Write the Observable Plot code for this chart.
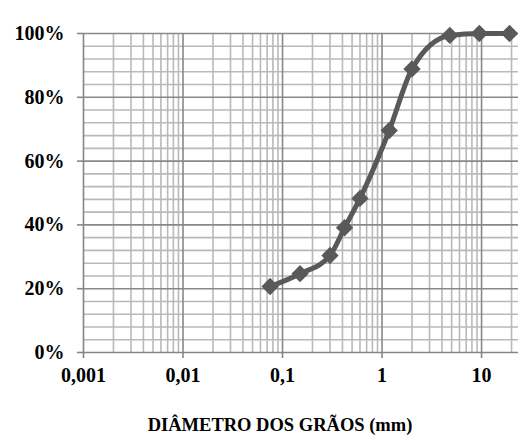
<!DOCTYPE html>
<html><head><meta charset="utf-8">
<script src="https://cdn.jsdelivr.net/npm/d3@7"></script>
<script src="https://cdn.jsdelivr.net/npm/@observablehq/plot@0.6"></script>
<style>body{margin:0;background:#fff;overflow:hidden}</style>
</head><body><div id="chart"></div>
<script>
const diameters = [0.075, 0.15, 0.3, 0.42, 0.6, 1.18, 2.0, 4.8, 9.5, 19.1];
const passing = [20.7, 24.7, 30.4, 39.1, 48.3, 69.6, 88.9, 99.4, 100, 100];
const xTickValues = [0.001, 0.01, 0.1, 1, 10];
const xTickLabels = ["0,001", "0,01", "0,1", "1", "10"];
const yTickValues = [0, 20, 40, 60, 80, 100];
const yTickLabels = ["0%", "20%", "40%", "60%", "80%", "100%"];
const xTitle = "DIÂMETRO DOS GRÃOS (mm)";

const data = diameters.map((d, i) => ({d, p: passing[i]}));
const xMax = 23.5;
const xMinor = [];
for (const dec of xTickValues) for (let k = 2; k <= 9; k++) if (dec * k <= xMax) xMinor.push(dec * k);
const yMinor = d3.range(0, 101, 4).filter(v => v % 20 !== 0);

const font = "'Liberation Serif', 'Times New Roman', serif";
const chart = Plot.plot({
  width: 518, height: 438,
  marginLeft: 83, marginTop: 33, marginBottom: 86, marginRight: 0,
  style: {fontFamily: font, fontWeight: "bold", fontSize: "20px", color: "#000", background: "#fff"},
  x: {type: "log", domain: [0.001, xMax]},
  y: {domain: [0, 100]},
  marks: [
    Plot.ruleX(xMinor, {stroke: "#b9b9b9", strokeWidth: 1.6, strokeOpacity: 1}),
    Plot.ruleY(yMinor, {stroke: "#b9b9b9", strokeWidth: 1.6, strokeOpacity: 1}),
    Plot.ruleX(xTickValues.slice(1), {stroke: "#888888", strokeWidth: 1.6, strokeOpacity: 1}),
    Plot.ruleY(yTickValues.slice(1), {stroke: "#888888", strokeWidth: 1.6, strokeOpacity: 1}),
    Plot.ruleY([0], {stroke: "#868686", strokeWidth: 1.6, strokeOpacity: 1}),
    Plot.ruleX([0.001], {stroke: "#868686", strokeWidth: 1.6, strokeOpacity: 1}),
    Plot.axisX({ticks: xTickValues, tickFormat: d => xTickLabels[xTickValues.indexOf(d)], tickSize: 6, tickPadding: 9, label: null, stroke: "#868686", strokeWidth: 1.6, strokeOpacity: 1, fontSize: 20, fontWeight: "bold", fill: "#000"}),
    Plot.axisY({ticks: yTickValues, tickFormat: d => yTickLabels[yTickValues.indexOf(d)], tickSize: 6, tickPadding: 13, label: null, stroke: "#868686", strokeWidth: 1.6, strokeOpacity: 1, fontSize: 20, fontWeight: "bold", fill: "#000"}),
    Plot.line(data, {x: "d", y: "p", stroke: "#595959", strokeWidth: 5, curve: "monotone-x"}),
    Plot.dot(data, {x: "d", y: "p", symbol: "diamond2", r: 7.8, fill: "#595959", stroke: "none"}),
    Plot.text([xTitle], {frameAnchor: "bottom", lineAnchor: "middle", dy: 73, dx: -21, fontSize: 18.5, fontWeight: "bold", fill: "#000"})
  ]
});
document.getElementById("chart").append(chart);
</script>
</body></html>
